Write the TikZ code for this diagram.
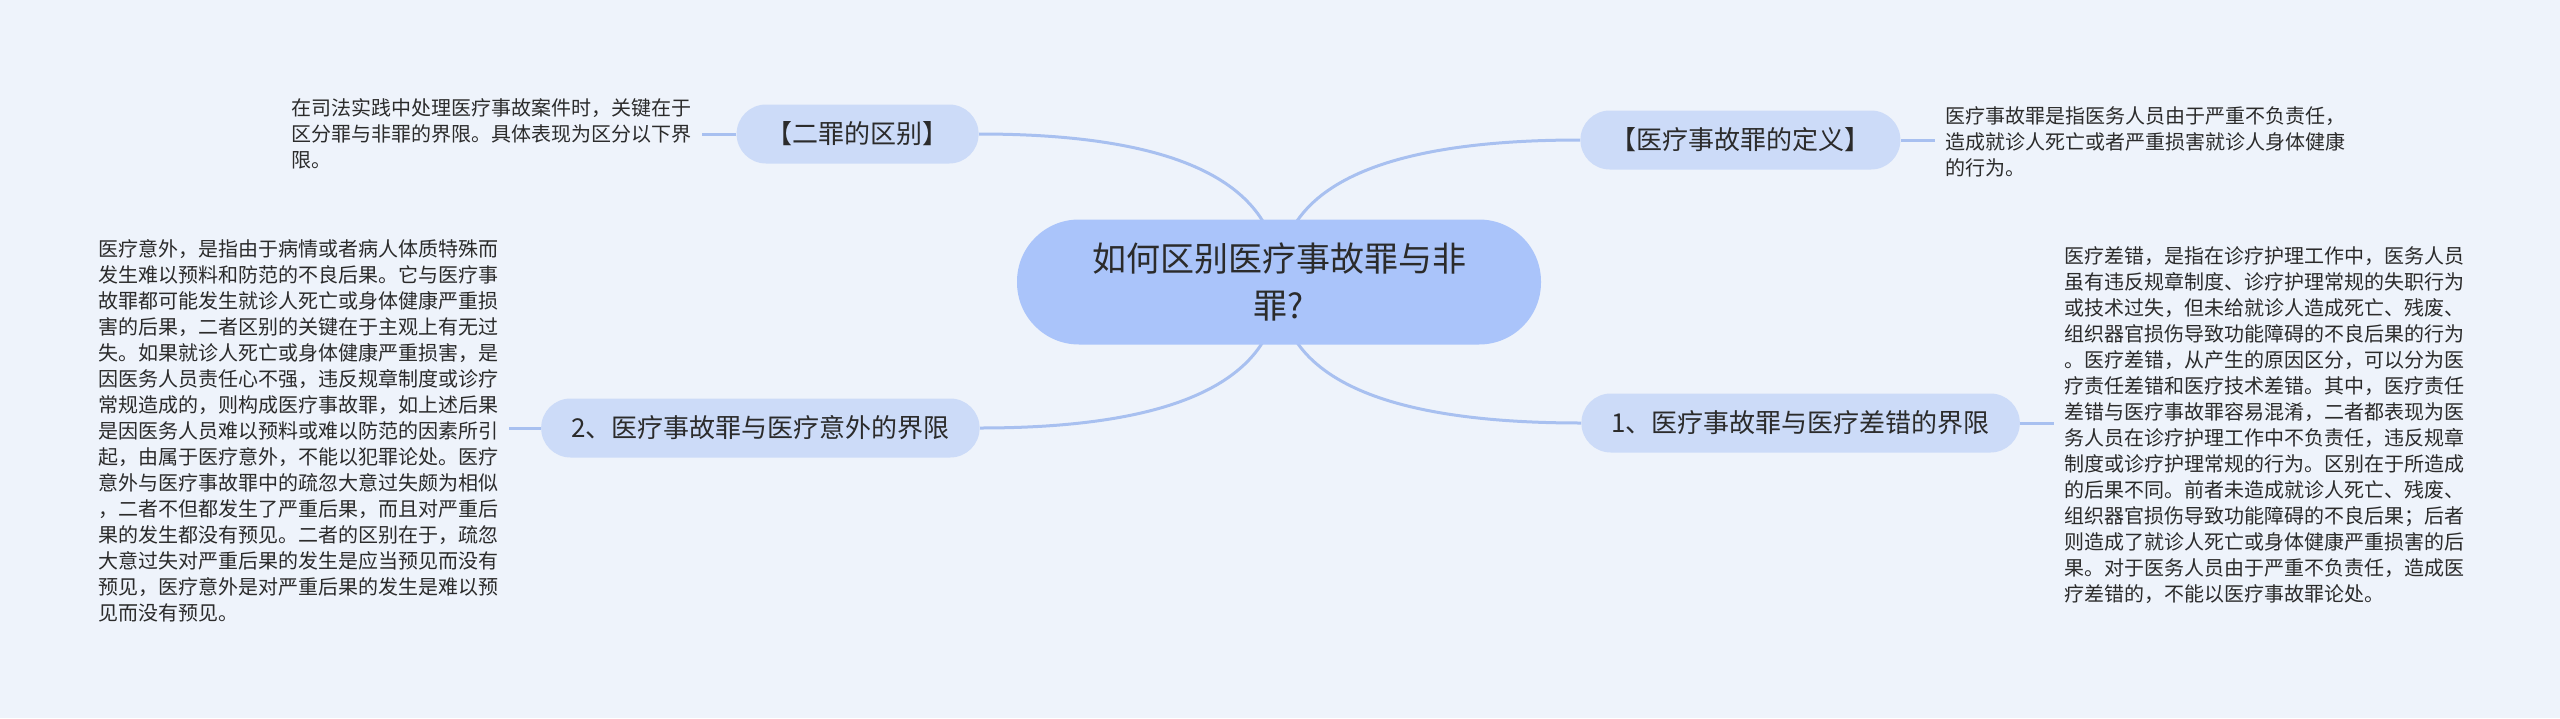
\documentclass[tikz,border=0pt]{standalone}
\usepackage{fontspec}
\newfontfamily\cjk{Noto Sans CJK SC}
\usetikzlibrary{calc,backgrounds}
\definecolor{bgcol}{HTML}{EEF3FB}
\definecolor{rootcol}{HTML}{AAC4FA}
\definecolor{pillcol}{HTML}{CCDBF8}
\definecolor{linkcol}{HTML}{A8C0F0}
\definecolor{inkcol}{HTML}{2B2B2B}

\begin{document}
\begin{tikzpicture}[x=0.5pt, y=-0.5pt,
    root/.style={fill=rootcol, rounded corners=31pt, minimum width=262pt, minimum height=62.5pt,
        align=center, text=inkcol, font=\cjk\fontsize{17pt}{23.5pt}\selectfont},
    pill/.style={fill=pillcol, rounded corners=14.7pt, minimum height=29.5pt, inner xsep=15pt,
        text=inkcol, font=\cjk\fontsize{13pt}{15.5pt}\selectfont},
    desc/.style={align=left, inner xsep=5pt, inner ysep=0pt, anchor=west,
        text=inkcol, font=\cjk\fontsize{10pt}{13pt}\selectfont},
    link/.style={draw=linkcol, line width=1.5pt}]
    \useasboundingbox (0,0) rectangle (2560,718);

    \node[root] (root) at (1279,282) {如何区别医疗事故罪与非\\罪?};

    \node[pill, anchor=east] (diff) at (979,134) {【二罪的区别】};
    \node[pill, anchor=west] (defn) at (1580,140) {【医疗事故罪的定义】};
    \node[pill, anchor=east] (accid) at (980,428) {2、医疗事故罪与医疗意外的界限};
    \node[pill, anchor=west] (error) at (1581,423) {1、医疗事故罪与医疗差错的界限};

    \node[desc] (diffTxt) at (281,134) {在司法实践中处理医疗事故案件时，关键在于\\
        区分罪与非罪的界限。具体表现为区分以下界\\
        限。};
    \node[desc] (defnTxt) at (1935,142) {医疗事故罪是指医务人员由于严重不负责任，\\
        造成就诊人死亡或者严重损害就诊人身体健康\\
        的行为。};
    \node[desc] (accidTxt) at (88,431) {医疗意外，是指由于病情或者病人体质特殊而\\
        发生难以预料和防范的不良后果。它与医疗事\\
        故罪都可能发生就诊人死亡或身体健康严重损\\
        害的后果，二者区别的关键在于主观上有无过\\
        失。如果就诊人死亡或身体健康严重损害，是\\
        因医务人员责任心不强，违反规章制度或诊疗\\
        常规造成的，则构成医疗事故罪，如上述后果\\
        是因医务人员难以预料或难以防范的因素所引\\
        起，由属于医疗意外，不能以犯罪论处。医疗\\
        意外与医疗事故罪中的疏忽大意过失颇为相似\\
        ，二者不但都发生了严重后果，而且对严重后\\
        果的发生都没有预见。二者的区别在于，疏忽\\
        大意过失对严重后果的发生是应当预见而没有\\
        预见，医疗意外是对严重后果的发生是难以预\\
        见而没有预见。};
    \node[desc] (errorTxt) at (2054,425) {医疗差错，是指在诊疗护理工作中，医务人员\\
        虽有违反规章制度、诊疗护理常规的失职行为\\
        或技术过失，但未给就诊人造成死亡、残废、\\
        组织器官损伤导致功能障碍的不良后果的行为\\
        。医疗差错，从产生的原因区分，可以分为医\\
        疗责任差错和医疗技术差错。其中，医疗责任\\
        差错与医疗事故罪容易混淆，二者都表现为医\\
        务人员在诊疗护理工作中不负责任，违反规章\\
        制度或诊疗护理常规的行为。区别在于所造成\\
        的后果不同。前者未造成就诊人死亡、残废、\\
        组织器官损伤导致功能障碍的不良后果；后者\\
        则造成了就诊人死亡或身体健康严重损害的后\\
        果。对于医务人员由于严重不负责任，造成医\\
        疗差错的，不能以医疗事故罪论处。};

    % background and links behind the nodes
    \begin{scope}[on background layer]
        \fill[bgcol] (0,0) rectangle (2560,718);
        \foreach \n/\a in {diff/east, defn/west, accid/east, error/west} {
            \coordinate (k) at (root.center |- \n.\a);
            \draw[link] (root.center) .. controls ($(root.center)!0.667!(k)$)
                and ($(\n.\a)!0.667!(k)$) .. (\n.\a);
        }
        \draw[link] (diff.west) -- (diff.west -| diffTxt.east);
        \draw[link] (defn.east) -- (defn.east -| defnTxt.west);
        \draw[link] (accid.west) -- (accid.west -| accidTxt.east);
        \draw[link] (error.east) -- (error.east -| errorTxt.west);
    \end{scope}
\end{tikzpicture}
\end{document}
